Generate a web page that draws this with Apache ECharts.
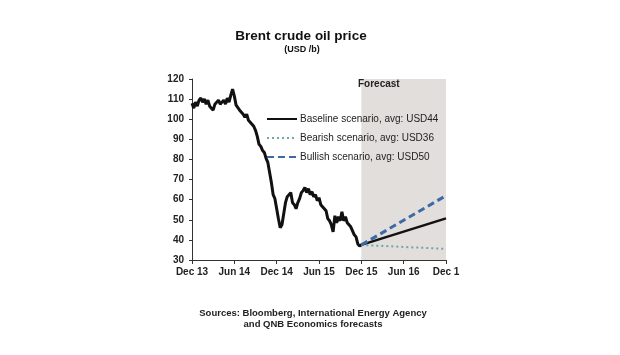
<!DOCTYPE html>
<html><head><meta charset="utf-8">
<script src="https://cdn.jsdelivr.net/npm/echarts@6/dist/echarts.min.js"></script>
<style>html,body{margin:0;padding:0;background:#fff}#c{width:620px;height:355px}</style>
</head><body><div id="c"></div>
<script>
// Tick labels (x axis: months since Dec 2013, one tick every 6 months)
const xTickLabels = ['Dec 13','Jun 14','Dec 14','Jun 15','Dec 15','Jun 16','Dec 1'];
// Historical Brent price: months since Dec 13 and USD/b values
const histMonths = [0,0.25,0.5,0.75,1,1.25,1.5,1.75,2,2.25,2.5,2.75,3,3.25,3.5,3.75,4,4.25,4.5,4.75,5,5.25,5.5,5.75,6,6.25,6.5,6.75,7,7.25,7.5,7.75,8,8.25,8.5,8.75,9,9.25,9.5,9.75,10,10.25,10.5,10.75,11,11.25,11.5,11.75,12,12.25,12.5,12.75,13,13.25,13.5,13.75,14,14.25,14.5,14.75,15,15.25,15.5,15.75,16,16.25,16.5,16.75,17,17.25,17.5,17.75,18,18.25,18.5,18.75,19,19.25,19.5,19.75,20,20.25,20.5,20.75,21,21.25,21.5,21.75,22,22.25,22.5,22.75,23,23.25,23.5,23.75,24];
const histValues = [108,105.5,108.5,106.5,109.5,110.5,108.5,110,107.5,109.5,106.5,106,104.5,107.5,107.5,109.5,107.5,108.5,109.5,107.5,110.5,108.5,112,115,111.5,107,107.5,104.5,104.5,102.5,101,102.5,99.5,98.5,97.5,96.5,94.5,91.5,87.5,86.5,84.5,83.5,80.5,78.5,73.5,68.5,62.5,60.5,55.5,50.5,46,47.5,53,58.5,61.5,61,63.5,58.5,57.5,55.5,58.5,60.5,63.5,64.5,66,63.5,65.5,62.5,64,61.5,62.5,59.5,61,57.5,57.5,55.5,54.5,50.5,49.5,47.5,44,52,48.5,51.5,49.5,54,49.5,51.5,48.5,48.5,46.5,46.5,42.5,41.5,38,37,37.5];
// Forecast scenarios (Dec 15 -> Dec 16)
const fcMonths = [24, 36];
const baseline = [37.5, 50.7];
const bearish = [37.5, 35.5];
const bullish = [37.5, 62];
const seriesNames = ['Baseline scenario, avg: USD44','Bearish scenario, avg: USD36','Bullish scenario, avg: USD50'];
const forecastRange = [24, 36];

const zip = (xs, ys) => xs.map((x, i) => [x, ys[i]]);
const FONT = 'Liberation Sans, Arial, sans-serif';

const chart = echarts.init(document.getElementById('c'));
chart.setOption({
  animation: false,
  backgroundColor: '#fff',
  grid: {left: 192, right: 174, top: 79, bottom: 95},
  title: [
    {text: 'Brent crude oil price', left: 296, top: 24, textAlign: 'center',
     textStyle: {fontFamily: FONT, fontSize: 13.5, fontWeight: 'bold', color: '#111'}},
    {text: '(USD /b)', left: 297, top: 40, textAlign: 'center',
     textStyle: {fontFamily: FONT, fontSize: 9, fontWeight: 'bold', color: '#111'}},
    {text: 'Sources: Bloomberg, International Energy Agency', left: 308, top: 303, textAlign: 'center',
     textStyle: {fontFamily: FONT, fontSize: 9.5, fontWeight: 'bold', color: '#222'}},
    {text: 'and QNB Economics forecasts', left: 308, top: 314, textAlign: 'center',
     textStyle: {fontFamily: FONT, fontSize: 9.5, fontWeight: 'bold', color: '#222'}}
  ],
  legend: {
    data: seriesNames,
    orient: 'vertical', left: 261, top: 109,
    itemWidth: 30, itemHeight: 12, itemGap: 9,
    itemStyle: {opacity: 0},
    textStyle: {fontFamily: FONT, fontSize: 10, color: '#222', padding: [0,0,0,-2]}
  },
  xAxis: {
    type: 'value', min: 0, max: 36, interval: 6,
    axisLine: {lineStyle: {color: '#333', width: 1}},
    axisTick: {show: true, length: 4, lineStyle: {color: '#333'}},
    splitLine: {show: false},
    axisLabel: {fontFamily: FONT, fontSize: 10, fontWeight: 'bold', color: '#222', margin: 7,
      formatter: v => xTickLabels[Math.round(v / 6)] || ''}
  },
  yAxis: {
    type: 'value', min: 30, max: 120, interval: 10,
    axisLine: {show: true, lineStyle: {color: '#333', width: 1}},
    axisTick: {show: true, length: 3, lineStyle: {color: '#333'}},
    splitLine: {show: false},
    axisLabel: {fontFamily: FONT, fontSize: 10, fontWeight: 'bold', color: '#222', margin: 8}
  },
  graphic: [
    {type: 'text', left: 358, top: 79, z: 100, style: {text: 'Forecast', font: 'bold 10px ' + FONT, fill: '#222'}}
  ],
  series: [
    {name: 'History', type: 'line', data: zip(histMonths, histValues), symbol: 'none',
     lineStyle: {color: '#111', width: 3}, z: 3,
     markArea: {silent: true, itemStyle: {color: '#e2dedb'},
       data: [[{xAxis: forecastRange[0]}, {xAxis: forecastRange[1]}]]}},
    {name: seriesNames[0], type: 'line', data: zip(fcMonths, baseline), symbol: 'none',
     itemStyle: {color: '#111'}, lineStyle: {color: '#111', width: 2.5}, z: 4},
    {name: seriesNames[1], type: 'line', data: zip(fcMonths, bearish), symbol: 'none',
     itemStyle: {color: '#6ea6aa'}, lineStyle: {color: '#6ea6aa', width: 2, type: [2, 3]}, z: 4},
    {name: seriesNames[2], type: 'line', data: zip(fcMonths, bullish), symbol: 'none',
     itemStyle: {color: '#3d69a6'}, lineStyle: {color: '#3d69a6', width: 3, type: [7, 4]}, z: 5}
  ]
});
</script></body></html>
